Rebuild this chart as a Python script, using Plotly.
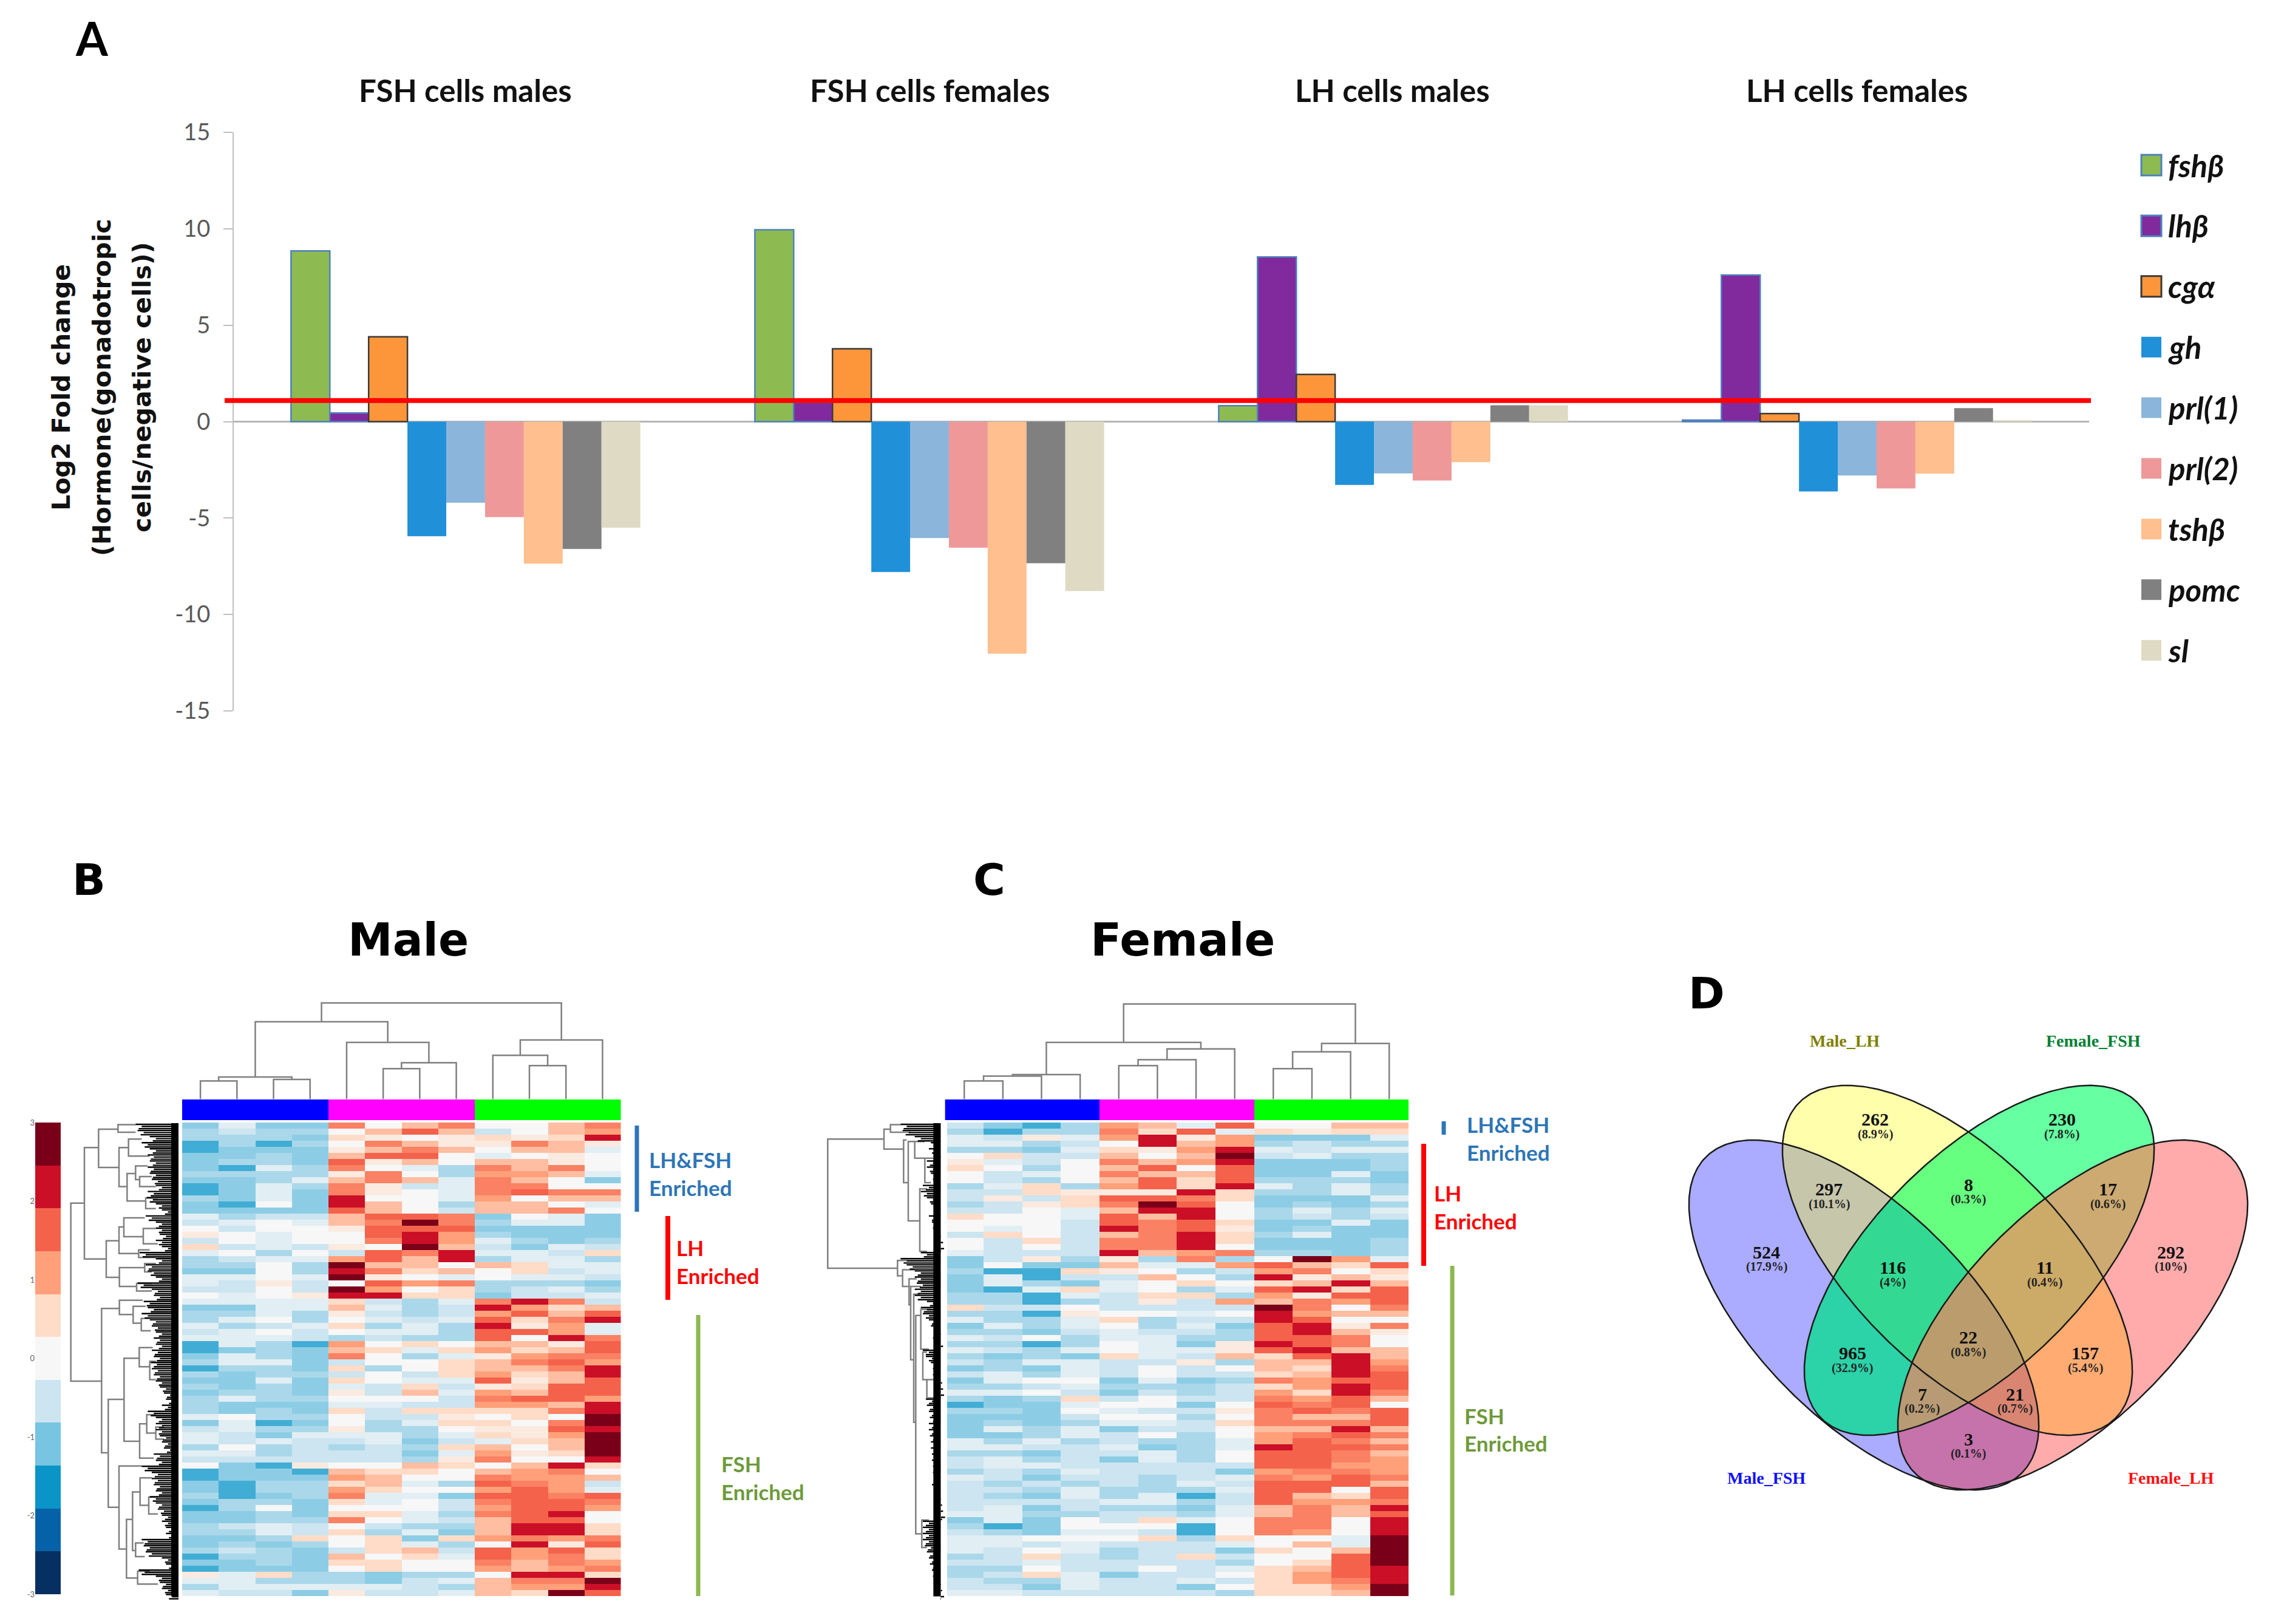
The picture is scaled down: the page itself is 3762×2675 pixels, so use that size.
import numpy as np
import plotly.graph_objects as go

W, H = 3762, 2675

# ---------- Panel A data ----------
groups = ["FSH cells males", "FSH cells females", "LH cells males", "LH cells females"]
genes = ["fshβ", "lhβ", "cgα", "gh", "prl(1)", "prl(2)", "tshβ", "pomc", "sl"]
fshb = [8.85, 9.95, 0.83, 0.08]
lhb = [0.45, 1.0, 8.54, 7.6]
cga = [4.4, 3.78, 2.45, 0.42]
gh = [-5.94, -7.8, -3.28, -3.62]
prl1 = [-4.2, -6.04, -2.68, -2.79]
prl2 = [-4.95, -6.54, -3.05, -3.46]
tshb = [-7.37, -12.03, -2.1, -2.7]
pomc = [-6.6, -7.34, 0.85, 0.7]
sl = [-5.5, -8.78, 0.85, 0.08]
threshold = 1.09
series = [fshb, lhb, cga, gh, prl1, prl2, tshb, pomc, sl]
bar_colors = ["#8DBB51", "#802A9E", "#FD963B", "#2090D9", "#8BB5DB", "#EE9899", "#FFBF8E", "#808080", "#DFDAC3"]
bar_edges = ["#4F81BD", "#4F81BD", "#3A3A3A", None, None, None, None, None, None]
y_ticks = [-15, -10, -5, 0, 5, 10, 15]

# ---------- Panels B / C heat maps: colour level per sample, top row first ----------
male_rows = [
"3d33 g5fg 55fg","c4cc 5f8f 45f7","ccc3 6e5e 6e69","2c2c 5gfe egfe","2333 efgf 5ffd","33c3 f885 d5e5",
"3cc3 8ef5 ffe5","32dc g5dc gfg5","cccc eg5c 77fd","33cd fgfd gf53","23dc ge4d gg55","23d3 ge5d g8gg",
"c3d3 955d 75ff","3253 9f5c ff5d","3333 8f54 ffg5","dc44 f88g 35d3","4d5d fgAg cdd3","5455 e888 3333",
"e5d5 5897 c333","45d5 5g97 dc3c","64d4 e5Af 43d4","d5c5 48g9 dd46","c4dd 78f9 cddc","cc5c Aff5 f6dd",
"335c 9g6f 564d","dd5d Ae5d 5dd4","d4e4 587g ccc3","4454 A756 c4dc","5d5e 9966 344d","dddd 64cd g9g4",
"33dd fdc4 976f","ccdc e4c4 78f8","cd5c 5d4d 86g9","dc4d 6cdc 9e7d","4d54 5ddc 887d","ddd4 c4cc 859g",
"2dc2 7565 ffe8","23c3 f6d6 76f8","3dc3 g5cd e7gg",
"cdd3 4556 fg87","2cc3 6c56 ffg9","c3cc 4546 76f9","33d3 65dd 8ef8","c3c3 d464 e688","3cc3 e4fd 7f88",
"cdcc 5554 g887","c333 dd44 77f9","c3c3 6466 66g9","d5cc 544e 565A","3d23 5cd6 65gA","4dcc ecc5 ee89",
"d43d ddcd 6e7A","d4d4 4d34 d6fA","c5c4 c4c6 f5fA","ddc4 443d 7e6A","4444 44ce g559","532e 55f6 5f96",
"2332 f665 f7g5","2333 7f55 g77f","32cc 6fdc 8g74","32cc 7655 787d","c23c gdd3 88g8","3cc3 6d54 g88g",
"2c53 5554 7887","33c3 66dc g895","33cc g5d4 f885","c4d4 54cc f996","ccd4 6cd3 f996","33c6 5636 7g7g",
"3c3c 56dc 59e8","c4c3 46f4 8786","2cc3 f56d 87g6","33c3 6655 gfg7","2333 5655 7f7g","ed6c c3cc 5996",
"ddcc c34d fggA","cddd dd4c f779","d443 e44d f6A8",
]
female_rows = [
"432c 7fd8 55ff","c2cc g68d 6e66","d4ed 79e7 333d","ddc4 59f7 c4cc","cc3d 6e79 d4dd","5644 f5fA 4dcc",
"ed45 gf79 333c","65c5 f858 333c","54d5 gff8 33d3","54c5 f868 ccc3","cd6c 7869 dcdc","446e ee96 ccdc",
"4e46 88g6 333d","c4e6 gA85 3c3c","445d f995 cdcd","655d 8f95 c4c4","5554 8g86 33d3","5d54 9g8e 3c33",
"4654 fg96 cd33","5464 gg96 333c","5454 gg95 333c","d444 9f7g cc3c","34ec ecgc 5A7d","3533 fdd7 8f68",
"c226 e5c4 7g56","3d24 4f5c 9efe","3dc3 d565 6f9f","32d6 d5cd 8968","cc2d 466c 7e88","cc2c 4e47 fg78",
"6445 4444 Ag5g","cc2e 55d5 97ff","dccd 6c44 9855","3dcd 5cd3 89eg","cc34 d44c 89fe","d45c ddcc 88g5",
"cc2c 5d3e 98g5","d4cd 5dde 89ff","c3c3 6d4f 689f",
"4cdd 44ec ff97","3c3d 4545 f69g","4dcd 4544 6f98","3d55 3d3c g788","cc4d ccc4 6798","dd54 34c4 769g",
"c3c6 4544 g78f","233d 5535 8g85","cc35 d44e g8g8","3334 55c5 gff8","3c3c dd46 ggg8","3dcd 3445 ff9f",
"33cd 45c5 7g8g","dcdc 4ccd 78gf","dd44 d3cd 988g","cc34 4dc5 88gf","4dc4 3dc5 88g7","4dd4 4444 8877",
"c4cd 4443 7gg7","d434 4c4d g78g","4c4c 4cd4 888f","44cd cccd 8858","4c3d cd24 8f68","4444 ddc4 877g",
"4d34 cc3d fgf9","ddcc 44cd fgf8","3d35 46d5 gg59","c235 5525 gg59","4c3d d425 g759","dd55 56c6 55dA",
"dd4d 444d 5fdA","d45d c443 65fA","c464 c464 558A","44d4 444c 568A","cc54 454d 6f89","c46d 3445 6789",
"4ccd 44d4 67g9","443d 4435 667A","dd44 444c 66fA",
]
sample_groups = [0, 0, 0, 0, 1, 1, 1, 1, 2, 2, 2, 2]
level_codes = {"0":0,"1":1,"2":2.5,"3":3.25,"4":4,"5":5,"6":6,"7":7,"8":8,"9":9,"A":10,
               "b":2.7,"c":3.6,"d":4.5,"e":5.5,"f":6.5,"g":7.5,"h":8.5,"i":9.5}
color_levels = ["#053061","#0562A8","#0A94C8","#77C5E1","#CCE5F0","#F7F7F7","#FFDCC8","#FFA07A","#F4624B","#CB0F26","#7A0019"]
scale_ticks = [-3, -2, -1, 0, 1, 2, 3]

def decode(rows):
    out = []
    for r in rows:
        codes = r.replace(" ", "")
        out.append([-3 + 0.6 * level_codes[c] for c in codes[:12]])
    return out

# column dendrograms: (left, right, height); ids >= 12 refer to earlier merges
male_col_merges = [(0,1,37),(2,3,40),(12,13,45),(5,6,62),(15,7,74),(4,16,115),(14,17,157),
                   (9,10,68),(8,19,89),(20,11,120),(18,21,195)]
female_col_merges = [(0,1,37),(12,2,47),(13,3,50),(4,5,68),(15,6,80),(16,7,102),(14,17,115),
                     (8,9,62),(19,10,96),(20,11,113),(18,21,193)]
# row dendrograms: (spine, top, bottom, reach of top arm, reach of bottom arm)
male_row_brackets = [
 (50,272,855,117,202),(117,90,455,187,225),(187,30,155,283,288),(283,15,40,370,370),(288,90,218,335,328),
 (335,62,118,400,440),(328,175,265,370,420),(370,150,195,430,390),(390,185,218,450,470),(420,255,290,480,470),
 (225,395,515,288,290),(288,350,437,312,385),(312,320,382,415,408),(408,355,405,470,480),(385,425,450,440,470),
 (290,483,545,415,375),(375,535,560,450,450),(415,470,497,470,450),
 (202,617,1090,290,235),(290,590,637,405,358),(358,610,665,420,398),(398,650,690,440,445),
 (235,915,1268,313,288),(313,780,1052,388,390),(388,745,808,455,440),(440,790,850,470,470),
 (390,995,1107,425,460),(425,965,1025,470,470),(470,1005,1045,510,510),
 (288,1133,1405,400,325),(325,1308,1500,355,380),(355,1218,1410,392,370),(392,1172,1262,450,435),
 (435,1235,1290,480,480),(370,1385,1430,410,415),(380,1478,1520,440,480),
]
female_row_brackets = [
 (10,62,485,288,355),(288,30,95,320,385),(320,15,40,370,420),(385,65,205,400,408),(408,70,330,440,465),
 (440,70,125,490,490),(465,225,430,500,500),(490,125,205,540,520),
 (355,460,510,400,380),(380,490,545,440,412),(412,520,605,450,420),(420,545,785,470,435),(435,570,990,465,445),
 (445,640,1355,470,475),(470,620,750,520,510),(480,760,850,500,500),(500,850,910,550,540),(475,1310,1400,510,500),
]
male_leaf_starts = [370,380,440,400,440,430,440,430,440,450,470,430,425,470,500,420,470,470,490,470,500,390,470,420,430,470,
 380,450,460,410,430,400,440,450,470,460,470,450,460,445,450,460,470,490,510,520,500,430,470,470,470,490,500,510,460,470,
 400,450,450,460,470,440,470,480,500,500,520,520,400,410,420,500,520,385,470,490,500,520]
female_leaf_starts = [370,380,440,520,510,540,500,500,520,530,480,470,500,520,535,510,525,530,540,550,555,470,370,400,440,440,
 450,440,440,500,470,480,510,520,540,530,550,480,495,520,530,530,545,550,555,495,500,510,515,510,510,515,520,520,525,525,
 530,530,535,525,535,540,545,550,560,480,480,480,480,490,500,510,515,525,530,540,545,555]

# ---------- Panel D data ----------
venn_sets = ["Male_FSH", "Male_LH", "Female_FSH", "Female_LH"]
venn_counts = [524, 262, 230, 292, 297, 8, 17, 116, 11, 965, 157, 22, 7, 21, 3]
venn_percents = ["17.9%","8.9%","7.8%","10%","10.1%","0.3%","0.6%","4%","0.4%","32.9%","5.4%","0.8%","0.2%","0.7%","0.1%"]

# ---------- helpers ----------
layout = {}
annots, shapes = [], []
traces = []
ax_n = [0]

def px(x): return x / W
def py(y): return 1 - y / H

def axes(x0, x1, y0, y1, xr, yr):
    ax_n[0] += 1
    n = ax_n[0]
    layout[f"xaxis{n}"] = dict(domain=[px(x0), px(x1)], range=xr, visible=False, anchor=f"y{n}", fixedrange=True, automargin=False)
    layout[f"yaxis{n}"] = dict(domain=[py(y1), py(y0)], range=yr, visible=False, anchor=f"x{n}", fixedrange=True, automargin=False)
    return f"x{n}", f"y{n}"

def text(x, y, s, size, color="#000000", font="Lato", anchor="center", angle=0):
    annots.append(dict(x=px(x), y=py(y), xref="paper", yref="paper", text=s, showarrow=False, xanchor=anchor,
                       yanchor="middle", textangle=angle, font=dict(size=size, color=color, family=font)))

def vbar(x, y0, y1, color, width=7):
    shapes.append(dict(type="rect", xref="paper", yref="paper", x0=px(x - width / 2), x1=px(x + width / 2),
                       y0=py(y1), y1=py(y0), fillcolor=color, line=dict(width=0)))

# ---------- Panel A ----------
xa, ya = axes(385, 3441, 218, 1171, [-0.5, 3.5], [-15, 15])
layout["xaxis1"].update(type="category", range=[-0.5, 3.5], categoryorder="array", categoryarray=groups)
layout["yaxis1"].update(visible=True, tickmode="array", tickvals=y_ticks, ticktext=[str(v) for v in y_ticks], ticks="outside",
                        ticklen=15, tickcolor="#BFBFBF", tickwidth=2, showline=True, linecolor="#BFBFBF", linewidth=2,
                        showgrid=False, zeroline=True, zerolinecolor="#B5B5B5", zerolinewidth=3, ticklabelstandoff=14,
                        tickfont=dict(family="Lato", size=38, color="#595959"))
for name, vals, col, edge in zip(genes, series, bar_colors, bar_edges):
    traces.append(go.Bar(x=groups, y=vals, name=name, xaxis=xa, yaxis=ya, showlegend=False,
                         marker=dict(color=col, line=dict(color=edge or col, width=2.5 if edge else 0))))
shapes.append(dict(type="line", xref="paper", yref=ya, x0=px(370), x1=px(3444), y0=threshold, y1=threshold,
                   line=dict(color="#FF0000", width=8), layer="above"))
for g, cx in zip(groups, [766, 1531, 2293, 3058]):
    text(cx, 148, f"<b>{g}</b>", 51, "#111111")
for s, x in zip(["<b>Log2 Fold change</b>", "<b>(Hormone(gonadotropic</b>", "<b>cells/negative cells))</b>"], [101, 168, 234]):
    text(x, 638, s, 41, "#111111", font="DejaVu Sans", angle=-90)
for i, (name, col, edge) in enumerate(zip(genes, bar_colors, bar_edges)):
    yc = 272 + i * 99.9
    shapes.append(dict(type="rect", xref="paper", yref="paper", x0=px(3527), x1=px(3560), y0=py(yc + 17), y1=py(yc - 17),
                       fillcolor=col, line=dict(color=edge or col, width=3 if edge else 0)))
    text(3569, yc, f"<b><i>{name}</i></b>", 51, "#111111", anchor="left")

# ---------- Panels B / C ----------
scale = [[i / 10, c] for i, c in enumerate(color_levels)]

def dendro_top(merges, box):
    xs, ys = [], []
    pos = {i: (float(i), 0.0) for i in range(12)}
    for k, (a, b, h) in enumerate(merges):
        xa_, ha = pos[a]
        xb_, hb = pos[b]
        xs += [xa_, xa_, xb_, xb_, None]
        ys += [ha, h, h, hb, None]
        pos[12 + k] = ((xa_ + xb_) / 2, h)
    xx, yy = axes(box[0], box[1], 1648, 1810.6, [-0.5, 11.5], [0, 200])
    traces.append(go.Scatter(x=xs, y=ys, mode="lines", xaxis=xx, yaxis=yy, showlegend=False,
                             line=dict(color="#7F7F7F", width=2.5), hoverinfo="skip"))

def dendro_left(brackets, leaves, x0, right, y0=1845, y1=2635):
    xs, ys = [], []
    for sp, t, b, rt, rb in brackets:
        xs += [rt, sp, sp, rb, None]
        ys += [t, t, b, b, None]
    xx, yy = axes(x0, x0 + 200, y0, y1, [0, 600], [1571, 0])
    lx, ly = [], []
    for i, st in enumerate(leaves):
        for off, jag in ((0, 0), (7, 30), (14, 15)):
            lx += [st + jag, right, None]
            ly += [14 + 20 * i + off, 14 + 20 * i + off, None]
    traces.append(go.Scatter(x=xs, y=ys, mode="lines", xaxis=xx, yaxis=yy, showlegend=False,
                             line=dict(color="#7F7F7F", width=2.5), hoverinfo="skip"))
    traces.append(go.Scatter(x=lx, y=ly, mode="lines", xaxis=xx, yaxis=yy, showlegend=False,
                             line=dict(color="#000000", width=2.4), hoverinfo="skip"))
    traces.append(go.Scatter(x=[right - 18, right - 18], y=[10, 1560], mode="lines", xaxis=xx, yaxis=yy, showlegend=False,
                             line=dict(color="#000000", width=12), hoverinfo="skip"))

def heat_panel(rows, merges, brackets, leaves, x0, x1, dx0, dright):
    z = decode(rows)
    xx, yy = axes(x0, x1, 1849, 2629, [-0.5, 11.5], [len(z) - 0.5, -0.5])
    traces.append(go.Heatmap(z=z, zmin=-3, zmax=3, colorscale=scale, showscale=False, xaxis=xx, yaxis=yy, hoverinfo="skip"))
    xx, yy = axes(x0, x1, 1811, 1845, [-0.5, 11.5], [-0.5, 0.5])
    traces.append(go.Heatmap(z=[sample_groups], zmin=0, zmax=2, showscale=False, xaxis=xx, yaxis=yy, hoverinfo="skip",
                             colorscale=[[0, "#0000FF"], [0.5, "#FF00FF"], [1, "#00FF00"]]))
    dendro_top(merges, (x0, x1))
    dendro_left(brackets, leaves, dx0, dright)

heat_panel(male_rows, male_col_merges, male_row_brackets, male_leaf_starts, 300, 1022.5, 100, 582)
heat_panel(female_rows, female_col_merges, female_row_brackets, female_leaf_starts, 1556.4, 2320, 1360, 568)

# colour key of the heat maps
xx, yy = axes(58, 100, 1849, 2626, [-0.5, 0.5], [-3, 3])
layout[f"yaxis{ax_n[0]}"].update(visible=True, tickmode="array", tickvals=scale_ticks, ticktext=[str(v) for v in scale_ticks],
                                 ticks="", showline=False, showgrid=False, zeroline=False,
                                 tickfont=dict(family="Lato", size=13, color="#666666"))
key_y = [-3 + 6 * (i + 0.5) / 11 for i in range(11)]
traces.append(go.Heatmap(z=[[-3 + 0.6 * i] for i in range(11)], y=key_y, zmin=-3, zmax=3, colorscale=scale, showscale=False,
                         xaxis=xx, yaxis=yy, hoverinfo="skip"))

text(146, 1449, "<b>B</b>", 72, font="DejaVu Sans")
text(1629, 1449, "<b>C</b>", 72, font="DejaVu Sans")
text(151, 62, "<b>A</b>", 76, font="Lato")
text(2811, 1636, "<b>D</b>", 72, font="DejaVu Sans")
text(672, 1548, "<b>Male</b>", 74, font="DejaVu Sans")
text(1948, 1548, "<b>Female</b>", 75, font="DejaVu Sans")

BLUE, RED, GRN, GRN_T = "#2E75B6", "#FF0000", "#8CB84F", "#6E9A3B"
LAB = 35
def lab(x, y, s, c):
    text(x, y, f"<b>{s}</b>", LAB, c, anchor="left")
vbar(1049, 1854, 1996, BLUE); vbar(1100, 2003, 2141, RED, 8); vbar(1150, 2166, 2629, GRN)
lab(1067, 1910, "LH&FSH", BLUE); lab(1067, 1956, "Enriched", BLUE)
lab(1112, 2055, "LH", RED); lab(1112, 2101, "Enriched", RED)
lab(1186, 2411, "FSH", GRN_T); lab(1186, 2457, "Enriched", GRN_T)
vbar(2378, 1847, 1869, BLUE); vbar(2345, 1884, 2085, RED, 8); vbar(2392, 2085, 2628, GRN)
lab(2414, 1852, "LH&FSH", BLUE); lab(2414, 1898, "Enriched", BLUE)
lab(2360, 1965, "LH", RED); lab(2360, 2011, "Enriched", RED)
lab(2410, 2332, "FSH", GRN_T); lab(2410, 2377, "Enriched", GRN_T)

# ---------- Panel D ----------
xx, yy = axes(2750, 3762, 1600, 2500, [2750, 3762], [2500, 1600])
ell = [(3070, 2166, 45), (3224, 2076, 45), (3260, 2076, -45), (3414, 2166, -45)]
t = np.linspace(0, 2 * np.pi, 361)[:-1]
SEMI_A, SEMI_B = 368, 175

def ellipse(cx, cy, ang):
    th = np.radians(ang)
    return (cx + SEMI_A * np.cos(t) * np.cos(th) - SEMI_B * np.sin(t) * np.sin(th),
            cy + SEMI_A * np.cos(t) * np.sin(th) + SEMI_B * np.sin(t) * np.cos(th))

def inside(x, y, cx, cy, ang):
    th = np.radians(ang)
    u = (x - cx) * np.cos(th) + (y - cy) * np.sin(th)
    v = -(x - cx) * np.sin(th) + (y - cy) * np.cos(th)
    return (u / SEMI_A) ** 2 + (v / SEMI_B) ** 2 <= 1

def patch(x, y, fc):
    traces.append(go.Scatter(x=np.append(x, x[0]), y=np.append(y, y[0]), mode="lines", fill="toself", fillcolor=fc,
                             line=dict(width=0), xaxis=xx, yaxis=yy, showlegend=False, hoverinfo="skip"))

def lens(e1, e2, fc):
    x1, y1 = ellipse(*e1)
    x2, y2 = ellipse(*e2)
    m1, m2 = inside(x1, y1, *e2), inside(x2, y2, *e1)
    x, y = np.r_[x1[m1], x2[m2]], np.r_[y1[m1], y2[m2]]
    order = np.argsort(np.arctan2(y - y.mean(), x - x.mean()))
    patch(x[order], y[order], fc)

for e, fc in zip(ell[:3], ["rgba(0,0,255,0.33)", "rgba(255,255,0,0.33)", "rgba(0,255,100,0.6)"]):
    patch(*ellipse(*e), fc)
lens(ell[0], ell[2], "rgba(0,190,180,0.35)")
patch(*ellipse(*ell[3]), "rgba(255,0,0,0.33)")
lens(ell[2], ell[3], "rgba(255,170,120,0.5)")
for name, e in zip(venn_sets, ell):
    ex, ey = ellipse(*e)
    traces.append(go.Scatter(x=np.append(ex, ex[0]), y=np.append(ey, ey[0]), mode="lines", name=name, showlegend=False,
                             line=dict(color="#1A1A1A", width=2.5), xaxis=xx, yaxis=yy, hoverinfo="skip"))

def vx(v): return 2750 + v * 0.645
def vy(v): return 1600 + v * 0.574
count_pos = [(248,805),(525,425),(1002,425),(1280,805),(407,625),(763,612),(1120,625),(570,850),(958,850),
             (467,1095),(1062,1095),(763,1050),(645,1213),(882,1213),(763,1342)]
SERIF = "Liberation Serif"
for n, p, (a, b) in zip(venn_counts, venn_percents, count_pos):
    text(vx(a), vy(b), f"<b>{n}</b>", 30, "#111111", SERIF)
    text(vx(a), vy(b + 43), f"<b>({p})</b>", 20, "#222222", SERIF)
for name, col, (a, b) in zip(["Male_LH", "Female_FSH", "Male_FSH", "Female_LH"], ["#808000", "#008033", "#1010FF", "#FF1010"],
                             [(447, 200), (1082, 200), (248, 1453), (1280, 1453)]):
    text(vx(a), vy(b), f"<b>{name}</b>", 28, col, SERIF)

fig = go.Figure(data=traces)
fig.update_layout(**layout)
fig.update_layout(width=W, height=H, margin=dict(l=0, r=0, t=0, b=0, pad=0, autoexpand=False), autosize=False, barmode="group",
                  bargap=0.247, bargroupgap=0, plot_bgcolor="white", paper_bgcolor="white", annotations=annots, shapes=shapes,
                  showlegend=False)
fig.write_html("out.html", config={"displayModeBar": False}, post_script="document.body.style.margin='0';")
